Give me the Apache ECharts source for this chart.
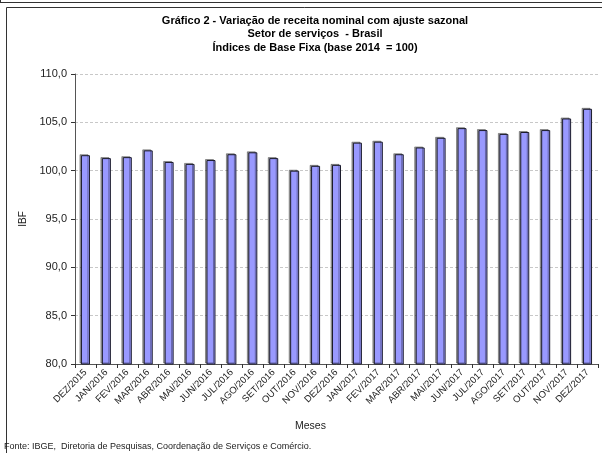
<!DOCTYPE html>
<html><head><meta charset="utf-8">
<script src="https://cdn.jsdelivr.net/npm/echarts@6/dist/echarts.min.js"></script>
<style>html,body{margin:0;padding:0;background:#fff}#c{width:602px;height:453px}</style>
</head><body><div id="c"></div>
<script>
const categories = ['DEZ/2015','JAN/2016','FEV/2016','MAR/2016','ABR/2016','MAI/2016','JUN/2016','JUL/2016','AGO/2016','SET/2016','OUT/2016','NOV/2016','DEZ/2016','JAN/2017','FEV/2017','MAR/2017','ABR/2017','MAI/2017','JUN/2017','JUL/2017','AGO/2017','SET/2017','OUT/2017','NOV/2017','DEZ/2017'];
const ibf = [101.6,101.3,101.4,102.1,100.9,100.7,101.1,101.7,101.9,101.3,100.0,100.5,100.6,102.9,103.0,101.7,102.4,103.4,104.4,104.2,103.8,104.0,104.2,105.4,106.4];
const titleLines = ['Gráfico 2 - Variação de receita nominal com ajuste sazonal','Setor de serviços  - Brasil','Índices de Base Fixa (base 2014  = 100)'];
const yName = 'IBF';
const xName = 'Meses';
const footnote = 'Fonte: IBGE,  Diretoria de Pesquisas, Coordenação de Serviços e Comércio.';

const chart = echarts.init(document.getElementById('c'), null, {renderer:'canvas'});
const F = 'Arial, "Liberation Sans", sans-serif';
chart.setOption({
  animation:false,
  backgroundColor:'#fff',
  title:{text:titleLines.join('\n'), left:310, top:9, textAlign:'center',
    textStyle:{fontFamily:F,fontSize:11,fontWeight:'bold',color:'#000',lineHeight:13.5}},
  grid:{left:75,right:4,top:74,bottom:89},
  xAxis:{type:'category',data:categories,name:xName,nameLocation:'middle',nameGap:57,
    nameTextStyle:{fontFamily:F,fontSize:10.5,color:'#222',padding:[0,52,0,0]},
    axisLine:{lineStyle:{color:'#555',width:1}},
    axisTick:{show:true,alignWithLabel:false,length:4,lineStyle:{color:'#333'}},
    axisLabel:{rotate:45,fontFamily:F,fontSize:9.5,color:'#222',margin:7,interval:0}},
  yAxis:{type:'value',min:80,max:110,interval:5,name:yName,nameLocation:'middle',nameGap:47,
    nameTextStyle:{fontFamily:F,fontSize:10,color:'#222'},
    axisLine:{show:true,lineStyle:{color:'#555',width:1}},
    axisTick:{show:true,length:4,lineStyle:{color:'#333'}},
    axisLabel:{fontFamily:F,fontSize:11,color:'#222',margin:8,formatter:v=>v.toFixed(1).replace('.',',')},
    splitLine:{show:true,lineStyle:{color:'#c8c8c8',type:[3,2],width:1}}},
  series:[{type:'bar',data:ibf,barWidth:9,
    itemStyle:{color:'#9999FF',borderColor:'#1c1c2c',borderWidth:1,
      shadowColor:'rgba(0,0,0,0.35)',shadowOffsetX:-1.5,shadowOffsetY:-1,shadowBlur:0}}],
  graphic:[
    {type:'line',shape:{x1:0,y1:2.5,x2:602,y2:2.5},style:{stroke:'#333',lineWidth:1}},
    {type:'line',shape:{x1:0.5,y1:0,x2:0.5,y2:3},style:{stroke:'#333',lineWidth:1}},
    {type:'polyline',shape:{points:[[6.5,453],[6.5,7.5],[602,7.5]]},style:{stroke:'#333',lineWidth:1,fill:null}},
    {type:'text',left:4,top:442,style:{text:footnote,fontFamily:F,fontSize:9,fill:'#222'}}
  ]
});
</script></body></html>
